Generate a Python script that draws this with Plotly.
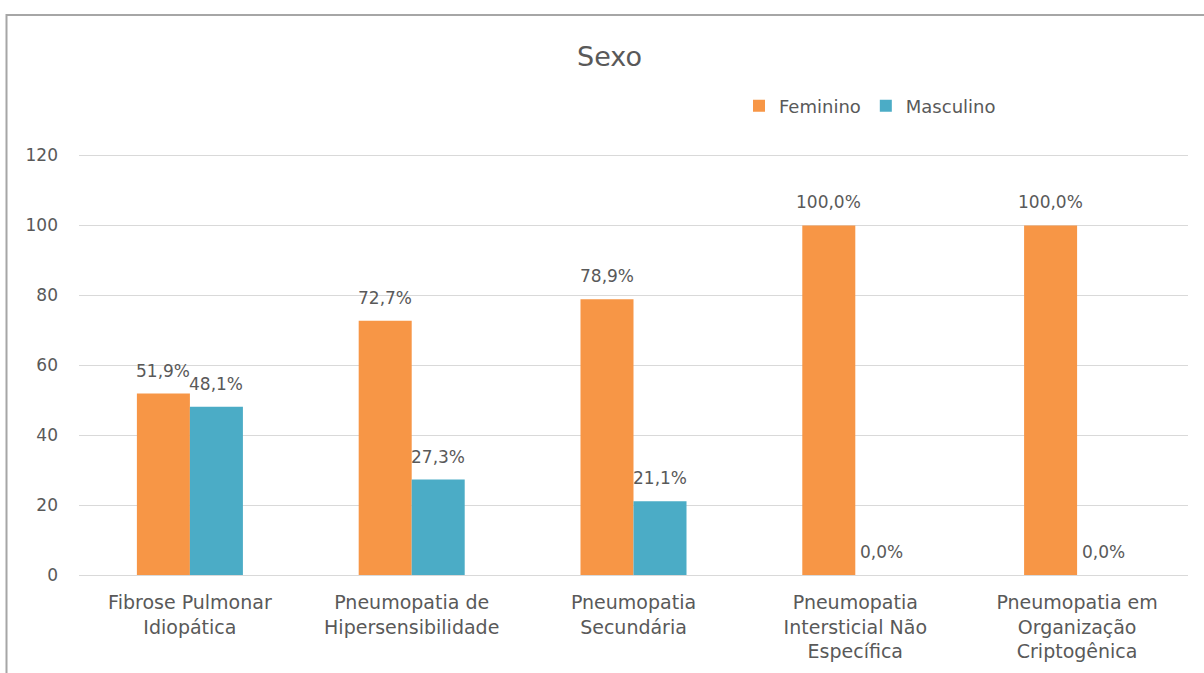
import plotly.graph_objects as go

categories = [
    "Fibrose Pulmonar<br>Idiopática",
    "Pneumopatia de<br>Hipersensibilidade",
    "Pneumopatia<br>Secundária",
    "Pneumopatia<br>Intersticial Não<br>Específica",
    "Pneumopatia em<br>Organização<br>Criptogênica",
]
feminino = [51.9, 72.7, 78.9, 100.0, 100.0]
masculino = [48.1, 27.3, 21.1, 0.0, 0.0]
y_ticks = [0, 20, 40, 60, 80, 100, 120]

ORANGE = "#F79646"
TEAL = "#4BACC6"
GRAY = "#595959"
FONT = "DejaVu Sans"

W, H = 1204, 673
ML, MR, MT, MB = 79, 16, 152, 98
YMAX = 121

fig = go.Figure()
fig.add_trace(go.Bar(name="Feminino", x=categories, y=feminino,
                     marker=dict(color=ORANGE, line=dict(width=0))))
fig.add_trace(go.Bar(name="Masculino", x=categories, y=masculino,
                     marker=dict(color=TEAL, line=dict(width=0))))

plot_w = W - ML - MR
bargap = 0.522
bar_px = plot_w / len(categories) * (1 - bargap) / 2

def fmt(v):
    return f"{v:.1f}".replace(".", ",") + "%"

annotations = []
for series, sign in ((feminino, -1), (masculino, 1)):
    for c, v in zip(categories, series):
        annotations.append(dict(
            x=c, y=v, xref="x", yref="y", text=fmt(v), showarrow=False,
            xshift=sign * bar_px / 2, yshift=23, yanchor="middle",
            font=dict(family=FONT, size=17, color=GRAY)))

def px_x(p):
    return (p - ML) / plot_w

def px_y(p):
    return (H - MB - p) / (H - MT - MB)

fig.update_layout(
    width=W, height=H,
    margin=dict(l=ML, r=MR, t=MT, b=MB),
    paper_bgcolor="white", plot_bgcolor="white",
    barmode="group", bargap=bargap, bargroupgap=0,
    title=dict(text="Sexo", x=609.5 / W, xanchor="center", xref="container",
               y=1 - 57 / H, yanchor="middle", yref="container",
               font=dict(family=FONT, size=27, color=GRAY)),
    legend=dict(orientation="h", x=px_x(739), xanchor="left",
                y=px_y(106), yanchor="middle",
                font=dict(family=FONT, size=18, color=GRAY),
                bgcolor="rgba(0,0,0,0)"),
    xaxis=dict(showgrid=False, showline=False, zeroline=False,
               tickfont=dict(family=FONT, size=19, color=GRAY),
               ticklabelstandoff=14, fixedrange=True),
    yaxis=dict(range=[0, YMAX], tickvals=y_ticks, showgrid=True,
               gridcolor="#D9D9D9", gridwidth=1.4, zeroline=True,
               zerolinecolor="#D9D9D9", zerolinewidth=1.4, showline=False,
               tickfont=dict(family=FONT, size=17, color=GRAY),
               ticklabelstandoff=20, fixedrange=True),
    annotations=annotations,
    shapes=[dict(type="rect", xref="paper", yref="paper",
                 x0=px_x(6.5), x1=px_x(W + 20), y0=px_y(H + 20), y1=px_y(15),
                 line=dict(color="#A6A6A6", width=2), fillcolor="rgba(0,0,0,0)",
                 layer="below")],
    showlegend=True,
)

fig.write_html("out.html")
